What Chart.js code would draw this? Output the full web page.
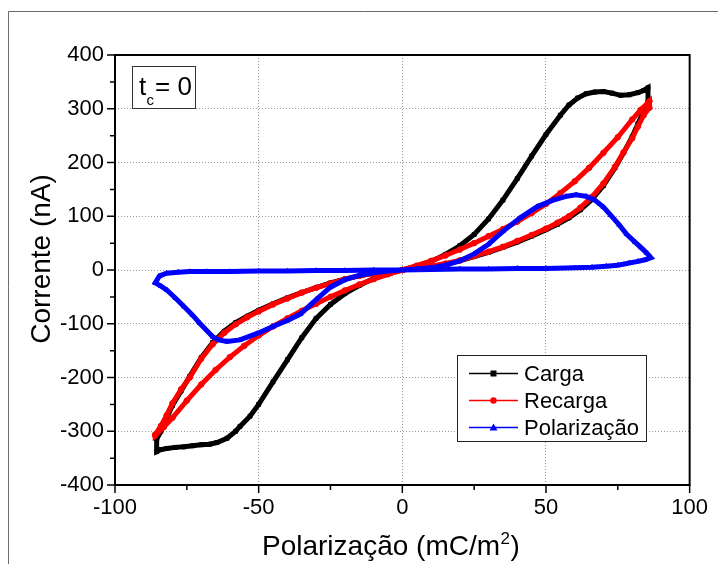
<!DOCTYPE html>
<html>
<head>
<meta charset="utf-8">
<script src="https://cdn.jsdelivr.net/npm/chart.js@4.4.0/dist/chart.umd.min.js"></script>
<style>
  html, body { margin: 0; padding: 0; background: #fff; }
  #c { display: block; }
</style>
</head>
<body>
<canvas id="c" width="718" height="564"></canvas>
<script>
// Axis ticks
const xTicks = [-100, -50, 0, 50, 100];
const yTicks = [-400, -300, -200, -100, 0, 100, 200, 300, 400];
const xMinorTicks = [-75, -25, 25, 75];
const yMinorTicks = [-350, -250, -150, -50, 50, 150, 250, 350];

// Carga loop: polarization (mC/m2) and current (nA)
const cargaPol = [
  0, 5, 10, 15, 20, 25, 30, 35, 40, 45, 50, 55, 58, 61, 64, 67, 70, 73, 76, 79, 82, 84, 85.5,
  85.5, 84, 82, 80, 77, 74, 70, 66, 62, 58, 54, 50, 45, 40, 35, 30, 25, 20, 15, 10, 5, 0,
  -5, -10, -15, -20, -25, -30, -35, -40, -45, -50, -54, -58, -62, -66, -70, -74, -77, -80, -82, -84, -85.5,
  -85.5, -84, -82, -79, -76, -73, -70, -67, -64.5, -61, -58, -56.5, -53, -50, -45, -40, -35, -30, -25, -20, -15, -10, -5, 0
];
const cargaCor = [
  0, 7, 16, 29, 45, 66, 95, 130, 170, 212, 252, 288, 307, 320, 328, 331, 332, 329, 325, 326, 330, 334, 339,
  312, 295, 272, 248, 218, 190, 157, 131, 112, 97, 85, 75, 63, 52, 42, 33, 25, 17, 11, 6, 3, 0,
  -3, -6, -11, -17, -24, -33, -42, -52, -63, -75, -86, -98, -114, -135, -163, -198, -225, -252, -275, -300, -315,
  -338, -334, -332, -330, -329, -327, -325, -324, -321, -313, -300, -291, -272, -250, -208, -167, -126, -90, -64, -44, -29, -16, -7, 0
];

// Recarga loop
const recargaPol = [
  0, 5, 10, 15, 20, 25, 30, 35, 40, 45, 50, 55, 60, 65, 70, 75, 80, 83, 86,
  86, 84, 82, 80, 77, 74, 70, 66, 62, 58, 54, 50, 45, 40, 35, 30, 25, 20, 15, 10, 5, 0,
  -5, -10, -15, -20, -25, -30, -35, -40, -45, -50, -54, -58, -62, -66, -70, -74, -77, -80, -82, -84, -86,
  -86, -83, -80, -75, -70, -65, -60, -55, -50, -45, -40, -35, -30, -25, -20, -15, -10, -5, 0
];
const recargaCor = [
  0, 8, 17, 27, 38, 50, 63, 76, 90, 106, 123, 143, 165, 190, 218, 247, 280, 298, 314,
  302, 288, 267, 245, 219, 192, 161, 136, 116, 100, 88, 77, 65, 54, 43, 34, 26, 18, 12, 7, 3, 0,
  -3, -6, -11, -17, -25, -33, -42, -53, -64, -77, -88, -101, -117, -138, -165, -200, -222, -248, -270, -290, -306,
  -308, -292, -275, -243, -213, -186, -162, -141, -122, -105, -90, -76, -63, -50, -38, -27, -17, -8, 0
];

// Polarização loop
const polarPol = [
  0, 10, 20, 30, 40, 50, 60, 66, 71, 75, 79, 82, 84.5, 86.5,
  85, 83, 81, 78, 75.5, 72.5, 70, 67, 64, 60.5, 57, 52.5, 47, 41, 35, 30, 25, 20, 15, 10, 5, 0,
  -5, -10, -15, -20, -25, -30, -35.5, -40, -45, -50.5, -56.5, -61, -64, -66, -70.5, -73, -76, -79, -82, -84, -86,
  -84.5, -82, -78, -74, -68, -60, -50, -40, -30, -20, -10, 0
];
const polarCor = [
  0, 1, 2, 2, 3, 3, 4, 5, 7, 9, 13, 16, 19, 23,
  32, 42, 52, 67, 84, 102, 117, 130, 137, 140, 137, 130, 118, 97, 72, 48, 30, 17, 9, 4, 2, 0,
  -2, -5, -10, -18, -32, -55, -82, -94, -105, -118, -130, -133, -130, -124, -99, -84, -68, -52, -37, -30, -24,
  -11, -6, -4, -3, -3, -3, -2, -2, -1, -1, 0, 0
];

const FONT = "'Liberation Sans', Arial, Helvetica, sans-serif";
const toPoints = (xs, ys) => xs.map((v, i) => ({ x: v, y: ys[i] }));

const seriesStyle = [
  { label: 'Carga', color: '#000000', marker: 'rect' },
  { label: 'Recarga', color: '#ff0000', marker: 'circle' },
  { label: 'Polarização', color: '#0000ff', marker: 'triangle' }
];

function drawMarker(ctx, style, x, y, color) {
  ctx.fillStyle = color;
  ctx.beginPath();
  if (style === 'rect') {
    ctx.rect(x - 3, y - 3, 6, 6);
  } else if (style === 'circle') {
    ctx.arc(x, y, 3.2, 0, Math.PI * 2);
  } else {
    ctx.moveTo(x, y - 4);
    ctx.lineTo(x + 4, y + 3);
    ctx.lineTo(x - 4, y + 3);
    ctx.closePath();
  }
  ctx.fill();
}

const decorations = {
  id: 'decorations',
  beforeDraw(chart) {
    const ctx = chart.ctx;
    ctx.save();
    ctx.fillStyle = '#ffffff';
    ctx.fillRect(0, 0, chart.width, chart.height);
    ctx.strokeStyle = '#6b6b6b';
    ctx.lineWidth = 1;
    ctx.beginPath();
    ctx.moveTo(8.5, chart.height);
    ctx.lineTo(8.5, 11.5);
    ctx.lineTo(chart.width, 11.5);
    ctx.stroke();
    ctx.restore();
  },
  afterDraw(chart) {
    const { ctx, chartArea: a, scales: { x, y } } = chart;
    ctx.save();
    // axis box
    ctx.strokeStyle = '#000';
    ctx.lineWidth = 2;
    ctx.strokeRect(a.left, a.top, a.right - a.left, a.bottom - a.top);

    // tick marks: major and minor, outward
    ctx.lineWidth = 1.5;
    ctx.beginPath();
    xTicks.forEach(v => { const px = x.getPixelForValue(v); ctx.moveTo(px, a.bottom); ctx.lineTo(px, a.bottom + 8); });
    xMinorTicks.forEach(v => { const px = x.getPixelForValue(v); ctx.moveTo(px, a.bottom); ctx.lineTo(px, a.bottom + 5); });
    yTicks.forEach(v => { const py = y.getPixelForValue(v); ctx.moveTo(a.left, py); ctx.lineTo(a.left - 8, py); });
    yMinorTicks.forEach(v => { const py = y.getPixelForValue(v); ctx.moveTo(a.left, py); ctx.lineTo(a.left - 5, py); });
    ctx.stroke();

    // axis titles
    ctx.fillStyle = '#000';
    ctx.textBaseline = 'alphabetic';
    ctx.textAlign = 'left';
    ctx.font = '28px ' + FONT;
    const xMain = 'Polarização (mC/m';
    let tx = 262;
    const tBase = 555;
    ctx.fillText(xMain, tx, tBase);
    tx += ctx.measureText(xMain).width;
    ctx.font = '17px ' + FONT;
    ctx.fillText('2', tx + 0.5, tBase - 11);
    tx += ctx.measureText('2').width + 1;
    ctx.font = '28px ' + FONT;
    ctx.fillText(')', tx, tBase);

    ctx.save();
    ctx.translate(50, 259);
    ctx.rotate(-Math.PI / 2);
    ctx.textAlign = 'center';
    ctx.fillText('Corrente (nA)', 0, 0);
    ctx.restore();

    // t_c = 0 label box
    ctx.strokeStyle = '#333';
    ctx.lineWidth = 1;
    ctx.strokeRect(132.5, 66.5, 63, 42);
    ctx.fillStyle = '#000';
    ctx.textBaseline = 'alphabetic';
    ctx.textAlign = 'left';
    ctx.font = '26px ' + FONT;
    ctx.fillText('t', 139, 95);
    ctx.font = '15px ' + FONT;
    ctx.fillText('c', 146.5, 105);
    ctx.font = '26px ' + FONT;
    ctx.fillText('= 0', 155, 95);

    // legend
    const lx = 457.5, ly = 355.5, lw = 189, lh = 86;
    ctx.fillStyle = '#fff';
    ctx.fillRect(lx, ly, lw, lh);
    ctx.strokeStyle = '#222';
    ctx.lineWidth = 1;
    ctx.strokeRect(lx, ly, lw, lh);
    ctx.font = '22px ' + FONT;
    ctx.textBaseline = 'middle';
    seriesStyle.forEach((s, i) => {
      const yy = 373.5 + i * 27;
      ctx.strokeStyle = s.color;
      ctx.lineWidth = 1.5;
      ctx.beginPath();
      ctx.moveTo(469, yy);
      ctx.lineTo(518, yy);
      ctx.stroke();
      drawMarker(ctx, s.marker, 493.5, yy, s.color);
      ctx.fillStyle = '#000';
      ctx.fillText(s.label, 524, yy + 1);
    });
    ctx.restore();
  }
};

const datasets = [
  toPoints(cargaPol, cargaCor),
  toPoints(recargaPol, recargaCor),
  toPoints(polarPol, polarCor)
].map((pts, i) => ({
  label: seriesStyle[i].label,
  data: pts,
  showLine: true,
  borderColor: seriesStyle[i].color,
  backgroundColor: seriesStyle[i].color,
  borderWidth: 5,
  pointStyle: seriesStyle[i].marker,
  pointRadius: 2.8,
  pointBorderWidth: 1,
  tension: 0,
  order: 3 - i
}));

new Chart(document.getElementById('c'), {
  type: 'scatter',
  data: { datasets },
  options: {
    responsive: false,
    animation: false,
    devicePixelRatio: 1,
    layout: { padding: { left: 8, top: 55, right: 28, bottom: 0 } },
    plugins: { legend: { display: false }, tooltip: { enabled: false } },
    scales: {
      x: {
        type: 'linear', min: -100, max: 100,
        afterBuildTicks: s => { s.ticks = xTicks.map(v => ({ value: v })); },
        afterFit: s => { s.height = 79; },
        grid: { color: '#9a9a9a', lineWidth: 1, drawTicks: false },
        border: { display: false, dash: [1, 2] },
        ticks: { color: '#000', font: { family: FONT, size: 22 }, padding: 10, maxRotation: 0, autoSkip: false, callback: v => String(v) },
        title: { display: false }
      },
      y: {
        type: 'linear', min: -400, max: 400,
        afterBuildTicks: s => { s.ticks = yTicks.map(v => ({ value: v })); },
        afterFit: s => { s.width = 107; },
        grid: { color: '#9a9a9a', lineWidth: 1, drawTicks: false },
        border: { display: false, dash: [1, 2] },
        ticks: { color: '#000', font: { family: FONT, size: 22 }, padding: 11, autoSkip: false, callback: v => String(v) },
        title: { display: false }
      }
    }
  },
  plugins: [decorations]
});
</script>
</body>
</html>
